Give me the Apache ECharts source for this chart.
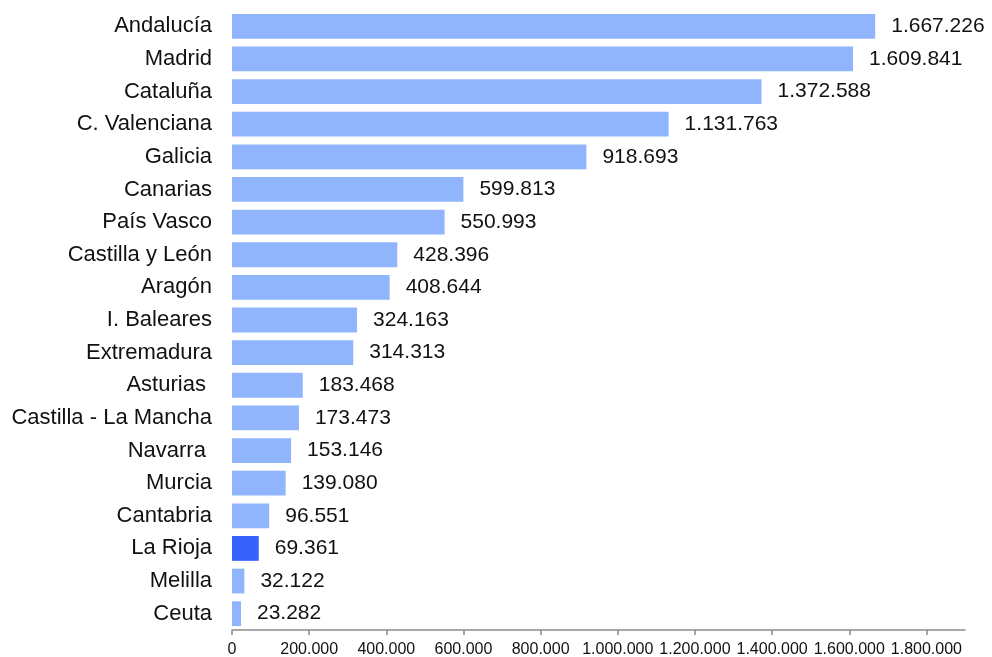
<!DOCTYPE html>
<html>
<head>
<meta charset="utf-8">
<script src="https://cdn.jsdelivr.net/npm/echarts@6/dist/echarts.min.js"></script>
<style>
html,body{margin:0;padding:0;background:#fff;}
#c{width:992px;height:657px;}
</style>
</head>
<body>
<div id="c"></div>
<script>
var categories = ["Andalucía","Madrid","Cataluña","C. Valenciana","Galicia","Canarias","País Vasco","Castilla y León","Aragón","I. Baleares","Extremadura","Asturias ","Castilla - La Mancha","Navarra ","Murcia","Cantabria","La Rioja","Melilla","Ceuta"];
var values = [1667226,1609841,1372588,1131763,918693,599813,550993,428396,408644,324163,314313,183468,173473,153146,139080,96551,69361,32122,23282];
var highlight = "La Rioja";
var tickValues = [0,200000,400000,600000,800000,1000000,1200000,1400000,1600000,1800000];
var axisMax = 1900000;

function fmt(v){ return String(v).replace(/\B(?=(\d{3})+(?!\d))/g, '.'); }

var chart = echarts.init(document.getElementById('c'));
var font = 'Liberation Sans, Helvetica, Arial, sans-serif';
chart.setOption({
  animation:false,
  grid:{left:232,right:27,top:10,bottom:27,containLabel:false,outerBoundsMode:'none'},
  xAxis:{
    type:'value',min:0,max:axisMax,
    splitLine:{show:false},
    axisLine:{show:true,lineStyle:{color:'#8a8a8a',width:1.5}},
    axisTick:{show:true,length:5,lineStyle:{color:'#8a8a8a',width:1.5},customValues:tickValues},
    axisLabel:{color:'#111',fontSize:16,fontFamily:font,margin:12,customValues:tickValues,formatter:function(v){return fmt(v);}}
  },
  yAxis:{
    type:'category',data:categories,inverse:true,
    axisLine:{show:false},axisTick:{show:false},
    axisLabel:{color:'#111',fontSize:22,fontFamily:font,margin:20}
  },
  series:[{
    type:'bar',
    barCategoryGap:'24%',
    data:values.map(function(v,i){
      return {value:v,itemStyle:{color: categories[i]===highlight ? '#3662fb' : '#91b5fd'}};
    }),
    label:{show:true,position:'right',distance:16,color:'#111',fontSize:21,fontFamily:font,formatter:function(p){return fmt(p.value);}}
  }]
});
</script>
</body>
</html>
